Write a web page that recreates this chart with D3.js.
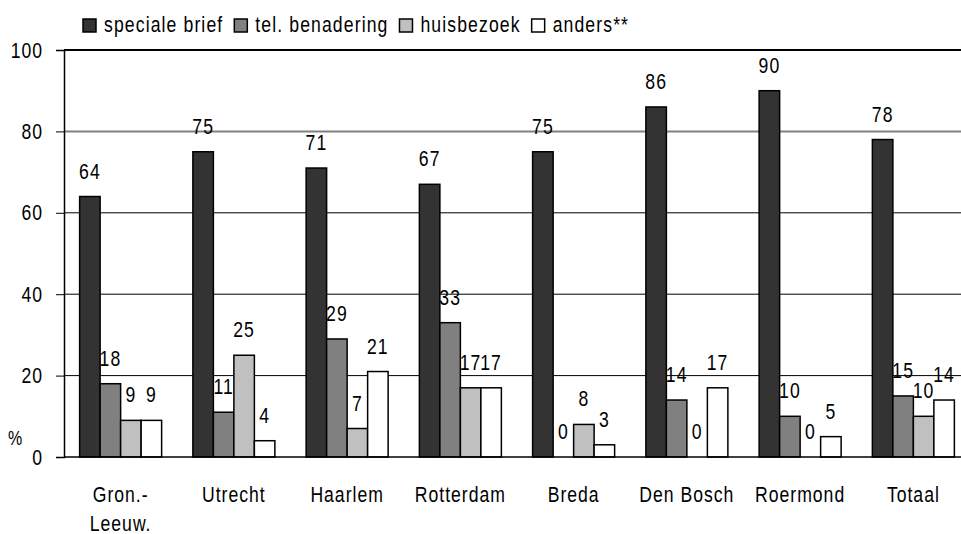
<!DOCTYPE html>
<html>
<head>
<meta charset="utf-8">
<script src="https://cdn.jsdelivr.net/npm/d3@7"></script>
<style>
  body { margin: 0; background: #fff; }
  text { font-family: "Liberation Sans", Arial, sans-serif; fill: #000; }
</style>
</head>
<body>
<div id="app"></div>
<script>
const categories = ['Gron.-|Leeuw.', 'Utrecht', 'Haarlem', 'Rotterdam', 'Breda', 'Den Bosch', 'Roermond', 'Totaal'];
const seriesNames = ['speciale brief', 'tel. benadering', 'huisbezoek', 'anders**'];
const specialeBrief = [64, 75, 71, 67, 75, 86, 90, 78];
const telBenadering = [18, 11, 29, 33, 0, 14, 10, 15];
const huisbezoek = [9, 25, 7, 17, 8, 0, 0, 10];
const anders = [9, 4, 21, 17, 3, 17, 5, 14];
const yTicks = [0, 20, 40, 60, 80, 100];

const seriesValues = [specialeBrief, telBenadering, huisbezoek, anders];
const colors = ['#333333', '#808080', '#c0c0c0', '#ffffff'];

const width = 961, height = 534;
const squeeze = 0.8;

const svg = d3.select('#app')
  .append('svg')
  .attr('width', width)
  .attr('height', height);

// condensed look: place text at origin, then translate + squeeze horizontally
const condense = (sel, x, y) => sel
  .attr('x', 0)
  .attr('y', 0)
  .attr('font-size', 22)
  .attr('letter-spacing', 1.25)
  .attr('transform', (d, i) => `translate(${typeof x === 'function' ? x(d, i) : x},${typeof y === 'function' ? y(d, i) : y}) scale(${squeeze},1)`);

const x0 = d3.scaleBand()
  .domain(categories)
  .range([64, 970])
  .paddingInner(0.276)
  .paddingOuter(0.138);

const x1 = d3.scaleBand()
  .domain(seriesNames)
  .range([0, x0.bandwidth()]);

const y = d3.scaleLinear()
  .domain([0, 100])
  .range([457, 50]);

// gridlines
svg.append('g')
  .selectAll('line')
  .data(yTicks.filter(d => d > 0))
  .join('line')
  .attr('x1', 64)
  .attr('x2', width)
  .attr('y1', d => y(d))
  .attr('y2', d => y(d))
  .attr('stroke', d => d === 80 ? '#808080' : '#000')
  .attr('stroke-width', d => d === 100 ? 2 : (d === 80 ? 2 : 1));

// y axis
const yAxis = svg.append('g')
  .attr('transform', 'translate(64,0)')
  .call(d3.axisLeft(y).tickValues(yTicks).tickSize(8).tickPadding(13));
yAxis.select('.domain').attr('stroke', '#000').attr('stroke-width', 1.5);
yAxis.selectAll('.tick line').attr('stroke', '#000');
yAxis.selectAll('.tick text')
  .attr('fill', '#000')
  .attr('font-family', null)
  .call(condense, -21, 0);

svg.append('text')
  .call(condense, 8, 445)
  .attr('font-size', 20)
  .text('%');

// bars
const groups = svg.append('g')
  .selectAll('g')
  .data(categories)
  .join('g')
  .attr('transform', d => `translate(${x0(d)},0)`);

groups.selectAll('rect')
  .data((d, i) => seriesNames.map((s, j) => ({ s, v: seriesValues[j][i], c: colors[j] })))
  .join('rect')
  .attr('x', d => x1(d.s))
  .attr('width', x1.bandwidth())
  .attr('y', d => y(d.v))
  .attr('height', d => y(0) - y(d.v))
  .attr('fill', d => d.c)
  .attr('stroke', '#000')
  .attr('stroke-width', 1.5);

groups.selectAll('text')
  .data((d, i) => seriesNames.map((s, j) => ({ s, v: seriesValues[j][i] })))
  .join('text')
  .attr('text-anchor', 'middle')
  .call(condense, d => x1(d.s) + x1.bandwidth() / 2, d => y(d.v) - 18)
  .text(d => d.v);

// x axis line
svg.append('line')
  .attr('x1', 64)
  .attr('x2', width)
  .attr('y1', y(0))
  .attr('y2', y(0))
  .attr('stroke', '#000')
  .attr('stroke-width', 1.5);

// category labels
const catLabels = svg.append('g')
  .selectAll('text')
  .data(categories)
  .join('text')
  .attr('text-anchor', 'middle')
  .call(condense, d => x0(d) + x0.bandwidth() / 2, 502);
catLabels.selectAll('tspan')
  .data(d => d.split('|'))
  .join('tspan')
  .attr('x', 0)
  .attr('dy', (d, i) => i === 0 ? 0 : 29)
  .text(d => d);

// legend
const legend = svg.append('g');
let lx = 83;
seriesNames.forEach((name, i) => {
  legend.append('rect')
    .attr('x', lx)
    .attr('y', 19)
    .attr('width', 13)
    .attr('height', 13)
    .attr('fill', colors[i])
    .attr('stroke', '#000')
    .attr('stroke-width', 1.5);
  const t = legend.append('text')
    .call(condense, lx + 21, 32)
    .attr('letter-spacing', 1.4)
    .text(name);
  lx += 21 + t.node().getComputedTextLength() * squeeze + 11;
});
</script>
</body>
</html>
